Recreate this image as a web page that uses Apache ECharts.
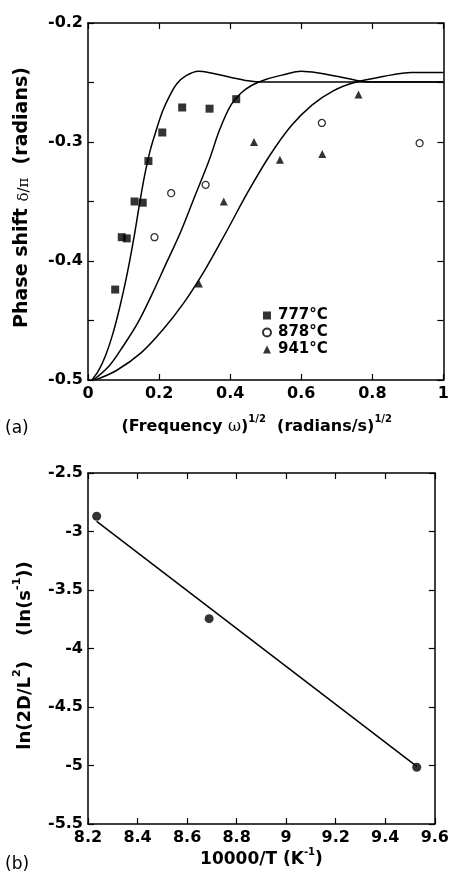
<!DOCTYPE html>
<html><head><meta charset="utf-8">
<script src="https://cdn.jsdelivr.net/npm/echarts@6/dist/echarts.min.js"></script>
<style>html,body{margin:0;padding:0;background:#fff}#c{width:452px;height:876px}</style>
</head><body><div id="c"></div>
<script>
// ---------- (a) phase shift data ----------
const x777 = [0.0765, 0.095, 0.109, 0.131, 0.154, 0.170, 0.209, 0.265, 0.342, 0.417];
const y777 = [-0.424, -0.380, -0.381, -0.350, -0.351, -0.316, -0.292, -0.271, -0.272, -0.264];
const x878 = [0.187, 0.234, 0.331, 0.658, 0.933];
const y878 = [-0.380, -0.343, -0.336, -0.284, -0.301];
const x941 = [0.312, 0.382, 0.467, 0.540, 0.659, 0.761];
const y941 = [-0.419, -0.350, -0.300, -0.315, -0.310, -0.260];
// fitted curves
const fitX777 = [0.011, 0.03, 0.05, 0.07, 0.09, 0.11, 0.13, 0.145, 0.16, 0.175, 0.19, 0.21, 0.23, 0.25, 0.275, 0.31, 0.35, 0.40, 0.45, 0.49, 0.75, 1.0];
const fitY777 = [-0.500, -0.492, -0.479, -0.461, -0.438, -0.411, -0.379, -0.352, -0.327, -0.307, -0.292, -0.274, -0.261, -0.251, -0.2445, -0.2405, -0.2422, -0.2455, -0.2485, -0.2496, -0.2496, -0.2496];
const fitX878 = [0.015, 0.06, 0.10, 0.14, 0.18, 0.22, 0.26, 0.30, 0.34, 0.37, 0.40, 0.43, 0.46, 0.50, 0.55, 0.60, 0.65, 0.70, 0.76, 0.80, 0.90, 1.0];
const fitY878 = [-0.500, -0.488, -0.471, -0.452, -0.428, -0.402, -0.376, -0.346, -0.316, -0.290, -0.270, -0.259, -0.2525, -0.2475, -0.2435, -0.2405, -0.2420, -0.2448, -0.2485, -0.2496, -0.2496, -0.2496];
const fitX941 = [0.02, 0.08, 0.15, 0.21, 0.27, 0.33, 0.39, 0.45, 0.51, 0.57, 0.63, 0.69, 0.75, 0.83, 0.91, 1.0];
const fitY941 = [-0.500, -0.492, -0.477, -0.458, -0.435, -0.407, -0.375, -0.342, -0.312, -0.287, -0.269, -0.257, -0.2500, -0.2450, -0.2415, -0.2415];
const xLabelsA = ['0', '0.2', '0.4', '0.6', '0.8', '1'];
const yLabelsA = ['-0.5', '-0.4', '-0.3', '-0.2'];
const legendNames = ['777°C', '878°C', '941°C'];

// ---------- (b) Arrhenius data ----------
const invT = [8.235, 8.689, 9.527];
const lnD = [-2.870, -3.745, -5.015];
const fitInvT = [8.235, 9.527];
const fitLnD = [-2.913, -5.008];
const xLabelsB = ['8.2', '8.4', '8.6', '8.8', '9', '9.2', '9.4', '9.6'];
const yLabelsB = ['-5.5', '-5', '-4.5', '-4', '-3.5', '-3', '-2.5'];

const FONT = 'DejaVu Sans';
const zip = (a, b) => a.map((v, i) => [v, b[i]]);
const pick = (labels) => (v) => {
  const s = labels.find(l => Math.abs(parseFloat(l) - v) < 1e-6);
  return s === undefined ? '' : s;
};
const lineS = { color: '#000', width: 1.5 };
const tickS = { show: true, inside: true, length: 6, lineStyle: { color: '#000', width: 1.2 } };
const lblS = { color: '#000', fontFamily: FONT, fontWeight: 'bold', fontSize: 16 };
const nameBase = { color: '#000', fontFamily: FONT, fontWeight: 'bold' };

function xAx(grid, min, max, interval, labels, pos, extra) {
  return Object.assign({
    gridIndex: grid, type: 'value', min, max, interval, position: pos,
    axisLine: { show: true, onZero: false, lineStyle: lineS },
    axisTick: tickS, splitLine: { show: false },
    axisLabel: pos === 'bottom' ? Object.assign({ margin: 6, formatter: pick(labels) }, lblS) : { show: false }
  }, extra || {});
}
function yAx(grid, min, max, interval, labels, pos, extra) {
  return Object.assign({
    gridIndex: grid, type: 'value', min, max, interval, position: pos,
    axisLine: { show: true, onZero: false, lineStyle: lineS },
    axisTick: tickS, splitLine: { show: false },
    axisLabel: pos === 'left' ? Object.assign({ margin: 5, formatter: pick(labels) }, lblS) : { show: false }
  }, extra || {});
}

const chart = echarts.init(document.getElementById('c'), null, { renderer: 'canvas' });
const curve = (xs, ys) => ({
  type: 'line', xAxisIndex: 0, yAxisIndex: 0, data: zip(xs, ys), showSymbol: false, symbol: 'none',
  smooth: 0.35, lineStyle: { color: '#000', width: 1.5 }, silent: true, z: 2
});
chart.setOption({
  animation: false,
  backgroundColor: '#fff',
  grid: [
    { left: 88, top: 23, width: 357, height: 357 },
    { left: 88, top: 473, width: 351, height: 351 }
  ],
  xAxis: [
    xAx(0, 0, 1, 0.2, xLabelsA, 'bottom', {
      name: '{t|(Frequency }{w|ω}{t|)}{s|1/2}{t|  (radians/s)}{s|1/2}',
      nameLocation: 'middle', nameGap: 37,
      nameTextStyle: Object.assign({}, nameBase, {
        padding: [0, 18, 0, 0],
        rich: {
          t: { fontFamily: FONT, fontWeight: 'bold', fontSize: 16, color: '#000', verticalAlign: 'bottom', lineHeight: 18 },
          w: { fontFamily: 'DejaVu Serif', fontWeight: 'normal', fontSize: 16, color: '#000', verticalAlign: 'bottom', lineHeight: 18 },
          s: { fontFamily: FONT, fontWeight: 'bold', fontSize: 10, color: '#000', verticalAlign: 'bottom', lineHeight: 10, padding: [0, 0, 11, 0] }
        }
      })
    }),
    xAx(0, 0, 1, 0.2, xLabelsA, 'top'),
    xAx(1, 8.2, 9.6, 0.2, xLabelsB, 'bottom', {
      name: '{t|10000/T (K}{s|-1}{t|)}',
      nameLocation: 'middle', nameGap: 25,
      nameTextStyle: Object.assign({}, nameBase, {
        rich: {
          t: { fontFamily: FONT, fontWeight: 'bold', fontSize: 17, color: '#000', verticalAlign: 'bottom', lineHeight: 19 },
          s: { fontFamily: FONT, fontWeight: 'bold', fontSize: 10, color: '#000', verticalAlign: 'bottom', lineHeight: 10, padding: [0, 0, 11, 0] }
        }
      })
    }),
    xAx(1, 8.2, 9.6, 0.2, xLabelsB, 'top')
  ],
  yAxis: [
    yAx(0, -0.5, -0.2, 0.05, yLabelsA, 'left', {
      name: '{t|Phase shift }{g|δ/π}{t|  (radians)}',
      nameLocation: 'middle', nameRotate: 90, nameGap: 56,
      nameTextStyle: Object.assign({}, nameBase, {
        padding: [0, 0, 0, 8],
        rich: {
          t: { fontFamily: FONT, fontWeight: 'bold', fontSize: 19, color: '#000', verticalAlign: 'bottom', lineHeight: 21 },
          g: { fontFamily: 'DejaVu Serif', fontWeight: 'normal', fontSize: 15, color: '#000', verticalAlign: 'bottom', lineHeight: 21 }
        }
      })
    }),
    yAx(0, -0.5, -0.2, 0.05, yLabelsA, 'right'),
    yAx(1, -5.5, -2.5, 0.5, yLabelsB, 'left', {
      name: '{t|ln(2D/L}{s|2}{t|)    (ln(s}{s|-1}{t|))}',
      nameLocation: 'middle', nameRotate: 90, nameGap: 54,
      nameTextStyle: Object.assign({}, nameBase, {
        padding: [0, 14, 0, 0],
        rich: {
          t: { fontFamily: FONT, fontWeight: 'bold', fontSize: 18, color: '#000', verticalAlign: 'bottom', lineHeight: 20 },
          s: { fontFamily: FONT, fontWeight: 'bold', fontSize: 11, color: '#000', verticalAlign: 'bottom', lineHeight: 11, padding: [0, 0, 11, 0] }
        }
      })
    }),
    yAx(1, -5.5, -2.5, 0.5, yLabelsB, 'right')
  ],
  legend: {
    data: legendNames, orient: 'vertical', left: 262, top: 308, padding: 0,
    itemWidth: 8, itemHeight: 8, itemGap: 2, selectedMode: false,
    textStyle: { color: '#000', fontFamily: FONT, fontWeight: 'bold', fontSize: 15, padding: [0, 0, 0, 2] }
  },
  graphic: [
    { type: 'text', left: 5, top: 420, style: { text: '(a)', font: '17px "DejaVu Sans"', fill: '#000' } },
    { type: 'text', left: 5, top: 856, style: { text: '(b)', font: '17px "DejaVu Sans"', fill: '#000' } }
  ],
  series: [
    curve(fitX777, fitY777),
    curve(fitX878, fitY878),
    curve(fitX941, fitY941),
    { name: legendNames[0], type: 'scatter', xAxisIndex: 0, yAxisIndex: 0, data: zip(x777, y777),
      symbol: 'rect', symbolSize: 8, itemStyle: { color: '#000' }, z: 3 },
    { name: legendNames[1], type: 'scatter', xAxisIndex: 0, yAxisIndex: 0, data: zip(x878, y878),
      symbol: 'circle', symbolSize: 7, itemStyle: { color: '#fff', borderColor: '#000', borderWidth: 1.3 }, z: 3 },
    { name: legendNames[2], type: 'scatter', xAxisIndex: 0, yAxisIndex: 0, data: zip(x941, y941),
      symbol: 'triangle', symbolSize: 8, itemStyle: { color: '#000' }, z: 3 },
    { type: 'line', xAxisIndex: 2, yAxisIndex: 2, data: zip(fitInvT, fitLnD), symbol: 'none',
      lineStyle: { color: '#000', width: 1.5 }, silent: true },
    { type: 'scatter', xAxisIndex: 2, yAxisIndex: 2, data: zip(invT, lnD),
      symbol: 'circle', symbolSize: 9, itemStyle: { color: '#000' }, z: 3 }
  ]
});
</script></body></html>
